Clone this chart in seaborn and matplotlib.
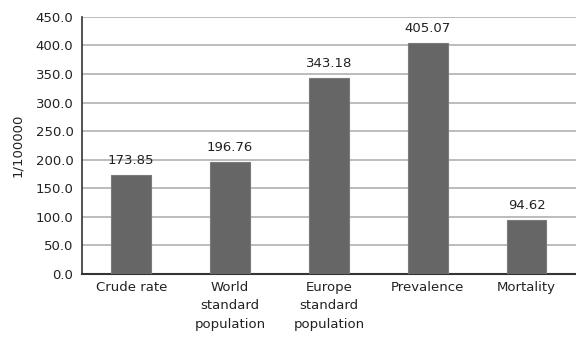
import matplotlib
matplotlib.use("Agg")
import matplotlib.pyplot as plt
import seaborn as sns
import pandas as pd

categories = ["Crude rate", "World\nstandard\npopulation", "Europe\nstandard\npopulation",
              "Prevalence", "Mortality"]
values = [173.85, 196.76, 343.18, 405.07, 94.62]
y_ticks = [0, 50, 100, 150, 200, 250, 300, 350, 400, 450]

sns.set_theme(style="white")
plt.rcParams["font.family"] = ["DejaVu Sans"]

df = pd.DataFrame({"category": categories, "value": values})

fig = plt.figure(figsize=(5.76, 3.37), dpi=100)
ax = fig.add_axes([0.142, 0.187, 0.858, 0.763])

sns.barplot(data=df, x="category", y="value", color="#666666", width=0.4,
            edgecolor="#7a7a7a", linewidth=0.8, saturation=1, ax=ax, zorder=3)

ax.set_ylim(0, 450)
ax.set_yticks(y_ticks)
ax.set_yticklabels([f"{t:.1f}" for t in y_ticks], fontsize=9.5, color="#222222")
ax.set_ylabel("1/100000", fontsize=9.5, color="#222222", labelpad=8)
ax.set_xlabel("")
ax.tick_params(axis="x", labelsize=9.5, colors="#222222", length=0, pad=5)
ax.tick_params(axis="y", length=4, width=1, color="#333333", pad=2, direction="out")
for lab in ax.get_xticklabels():
    lab.set_linespacing(1.55)
    lab.set_va("top")

ax.yaxis.grid(True, color="#b0b0b0", linewidth=1.2, zorder=0)
ax.set_axisbelow(True)
for side in ["top", "right"]:
    ax.spines[side].set_visible(False)
ax.spines["left"].set_color("#333333")
ax.spines["bottom"].set_color("#333333")
ax.spines["left"].set_linewidth(1.2)
ax.spines["bottom"].set_linewidth(1.5)

for i, v in enumerate(values):
    ax.text(i, v + 14, f"{v:.2f}", ha="center", va="bottom", fontsize=9.5, color="#222222")

fig.savefig("out.png", dpi=100)
